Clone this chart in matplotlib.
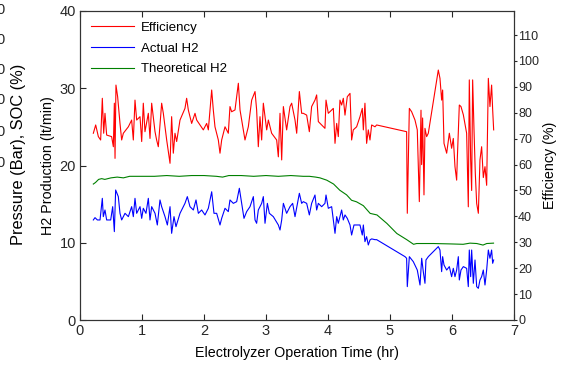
import matplotlib
matplotlib.use("Agg")
import matplotlib.pyplot as plt

plt.rcParams['font.family'] = ['Liberation Sans', 'DejaVu Sans']

# efficiency (%), right axis
t_eff = [0.215,0.253,0.296,0.333,0.36,0.382,0.403,0.43,0.51,0.538,
         0.554,0.565,0.58,0.607,0.645,0.672,0.699,0.78,0.833,0.86,
         0.887,0.914,0.968,0.995,1.021,1.048,1.102,1.129,1.156,1.21,
         1.236,1.263,1.317,1.344,1.398,1.452,1.478,1.505,1.532,1.559,
         1.613,1.693,1.72,1.747,1.801,1.855,1.882,1.935,1.989,2.043,
         2.07,2.124,2.15,2.177,2.231,2.258,2.285,2.339,2.392,2.419,
         2.446,2.5,2.554,2.581,2.634,2.661,2.715,2.769,2.823,2.849,
         2.876,2.903,2.93,2.957,3.011,3.038,3.091,3.172,3.199,3.226,
         3.253,3.28,3.333,3.387,3.414,3.468,3.495,3.538,3.575,3.602,
         3.656,3.699,3.736,3.79,3.817,3.844,3.898,3.951,3.968,4.005,
         4.059,4.086,4.113,4.14,4.166,4.193,4.22,4.247,4.274,4.311,
         4.355,4.381,4.408,4.462,4.516,4.553,4.57,4.596,4.623,4.65,
         4.677,4.704,4.758,4.785,5.268,5.279,5.312,5.349,5.403,5.44,
         5.473,5.5,5.51,5.526,5.548,5.564,5.591,5.618,5.779,5.806,
         5.833,5.849,5.871,5.914,5.957,5.994,6.021,6.048,6.075,6.086,
         6.118,6.145,6.183,6.236,6.263,6.279,6.301,6.317,6.333,6.355,
         6.376,6.398,6.425,6.451,6.478,6.505,6.532,6.559,6.586,6.612,
         6.639,6.656,6.672]
eff = [72.1,75.3,70.8,69.5,85.6,72.1,79.8,71.4,70.8,66.9,
       83.7,62.4,90.7,86.2,75.9,69.5,72.1,74.6,77.2,69.5,
       84.9,77.2,78.5,68.9,83.7,72.7,79.8,70.1,83.7,72.7,
       69.5,66.9,83.7,79.8,69.5,60.5,78.5,64.4,72.1,68.9,
       77.2,81.7,85.6,81.1,75.9,79.8,77.2,75.3,73.4,75.9,
       73.4,88.8,81.1,74.6,69.5,64.4,69.5,74.6,72.1,82.4,
       80.4,81.1,91.4,81.1,73.4,69.5,74.6,84.9,88.2,81.1,
       66.9,78.5,69.5,83.7,73.4,77.2,72.1,69.5,63.0,79.8,
       61.8,82.4,73.4,82.4,83.7,77.2,72.1,88.2,79.8,79.8,
       79.1,72.7,82.4,84.9,86.9,76.6,75.3,74.0,84.9,79.8,
       81.1,81.7,68.2,75.9,70.8,84.9,83.0,85.6,79.1,86.2,
       87.5,69.5,73.4,74.6,78.5,81.7,73.4,83.7,68.2,73.4,
       69.5,75.3,74.6,75.3,72.7,41.2,81.7,80.4,77.2,73.4,
       45.7,81.0,60.0,78.0,48.3,74.0,70.8,72.1,96.5,93.3,
       84.9,88.8,68.2,64.4,72.1,66.3,70.1,59.2,54.0,62.4,
       83.0,82.4,79.2,72.1,43.7,92.7,61.8,50.0,92.7,73.4,
       56.6,45.0,41.2,61.8,66.9,55.0,59.2,52.0,93.3,82.4,
       90.7,81.1,73.4]

# actual H2 (lt/min), left axis
t_act = [0.215,0.242,0.28,0.323,0.36,0.376,0.403,0.43,0.495,0.527,
         0.554,0.575,0.618,0.645,0.672,0.726,0.78,0.833,0.86,0.887,
         0.914,0.968,0.995,1.021,1.064,1.102,1.129,1.156,1.21,1.247,
         1.29,1.317,1.371,1.409,1.452,1.478,1.516,1.548,1.613,1.693,
         1.731,1.774,1.828,1.871,1.909,1.962,2.016,2.07,2.124,2.161,
         2.204,2.258,2.285,2.339,2.392,2.419,2.473,2.527,2.57,2.608,
         2.645,2.688,2.742,2.796,2.823,2.849,2.876,2.93,2.957,2.984,
         3.022,3.054,3.118,3.199,3.226,3.253,3.28,3.333,3.387,3.43,
         3.468,3.538,3.575,3.602,3.656,3.699,3.736,3.79,3.817,3.844,
         3.898,3.951,3.968,4.005,4.059,4.086,4.113,4.14,4.166,4.22,
         4.247,4.274,4.311,4.355,4.381,4.419,4.462,4.516,4.553,4.57,
         4.596,4.623,4.65,4.677,4.704,4.758,4.785,5.242,5.268,5.279,
         5.312,5.376,5.44,5.484,5.511,5.537,5.564,5.58,5.618,5.779,
         5.806,5.833,5.849,5.871,5.914,5.957,5.994,6.021,6.048,6.075,
         6.102,6.118,6.145,6.183,6.236,6.263,6.279,6.301,6.317,6.344,
         6.371,6.398,6.425,6.451,6.478,6.505,6.532,6.559,6.586,6.612,
         6.639,6.656,6.672]
act_h2 = [12.95,13.25,12.95,12.95,15.75,13.38,14.24,12.95,12.95,14.67,
          11.44,16.83,15.97,13.81,12.95,13.81,13.38,14.67,13.38,15.75,
          13.81,14.67,13.16,14.46,13.81,15.75,12.95,14.67,13.81,12.3,
          15.54,14.67,13.38,12.3,14.67,11.22,13.38,12.08,13.81,15.1,
          15.97,14.67,14.24,15.54,13.81,14.24,13.6,14.46,16.6,13.81,
          13.81,12.3,13.16,14.46,14.03,15.54,15.1,15.32,17.05,15.1,
          13.16,14.03,14.67,15.97,12.95,12.52,14.24,15.1,15.97,12.52,
          15.1,13.81,13.38,12.3,11.65,12.95,15.1,13.81,14.67,15.1,
          13.38,16.4,15.1,15.32,15.1,13.6,15.1,16.18,14.24,15.1,
          14.67,15.1,16.18,14.46,14.67,12.95,11.22,13.38,12.52,14.24,
          12.95,13.6,13.16,12.3,11.0,12.3,12.3,12.3,11.0,12.3,
          10.14,10.79,9.71,10.36,10.5,10.4,10.4,8.2,7.99,4.32,
          8.2,7.55,6.47,4.53,7.99,6.26,4.75,7.77,8.2,9.5,
          9.06,6.26,8.2,7.12,6.47,6.91,5.61,6.69,5.61,6.47,
          8.2,5.18,6.47,6.91,6.69,4.32,9.06,5.61,9.06,4.75,
          7.77,4.32,4.1,5.18,5.61,6.47,4.53,6.47,9.06,7.99,
          9.06,7.34,7.77]

# theoretical H2 (lt/min), left axis
t_theo = [0.215,0.25,0.3,0.35,0.4,0.5,0.6,0.7,0.8,1.0,
          1.2,1.4,1.6,1.8,2.0,2.2,2.3,2.4,2.6,2.8,
          3.0,3.2,3.4,3.6,3.7,3.8,3.87,3.98,4.09,4.19,
          4.3,4.38,4.46,4.57,4.68,4.79,4.95,5.11,5.27,5.38,
          5.43,5.7,5.97,6.18,6.29,6.4,6.5,6.56,6.67]
theo_h2 = [17.6,17.8,18.2,18.3,18.2,18.4,18.5,18.4,18.6,18.6,
           18.6,18.7,18.6,18.7,18.7,18.6,18.5,18.7,18.7,18.6,
           18.7,18.6,18.7,18.6,18.6,18.5,18.4,18.1,17.6,16.8,
           16.2,15.5,15.3,14.8,13.8,13.6,12.5,11.2,10.4,9.8,
           9.9,9.9,9.85,9.8,9.95,9.9,9.7,9.9,9.95]

fig = plt.figure(figsize=(5.61, 3.65), dpi=100)
ax = fig.add_axes([80/561, 45/365, 434/561, 309/365])
ax2 = ax.twinx()

l1, = ax2.plot(t_eff, eff, color='red', lw=0.8, label='Efficiency')
l2, = ax.plot(t_act, act_h2, color='blue', lw=0.8, label='Actual H2')
l3, = ax.plot(t_theo, theo_h2, color='#008000', lw=0.8, label='Theoretical H2')

ax.set_xlim(0, 7)
ax.set_ylim(0, 40)
ax2.set_ylim(0, 119.3)
ax.set_xticks(range(8))
ax.set_yticks([0, 10, 20, 30, 40])
ax2.set_yticks(range(0, 120, 10))

ax.tick_params(direction='in', length=4, top=True, right=False,
               labelsize=10.5, colors='#262626', pad=3)
ax2.tick_params(direction='out', length=2.5, labelsize=9, colors='#262626', pad=0.5)
for a in (ax, ax2):
    for s in a.spines.values():
        s.set_color('#333333')
        s.set_linewidth(0.8)

ax.set_xlabel('Electrolyzer Operation Time (hr)', fontsize=10.3, labelpad=6)
ax.set_ylabel('H2 Production (lt/min)', fontsize=10.3, labelpad=3)
ax2.set_ylabel('Efficiency (%)', fontsize=10.3, labelpad=3)

ax2.legend(handles=[l1, l2, l3], loc='upper left', frameon=False, fontsize=9.5,
           handlelength=3.3, handletextpad=0.55, labelspacing=0.65,
           borderaxespad=0.4)

# cut-off axis from the neighbouring panel
fig.text(18/561, 1 - 154/365, 'Pressure (Bar), SOC (%)', rotation=90,
         ha='center', va='center', fontsize=11.8)
for y in [10, 40, 70, 100, 132, 163]:
    fig.text(4.5/561, 1 - y/365, '0', ha='right', va='center', fontsize=10.5,
             color='#262626')

fig.savefig('out.png', dpi=100)
